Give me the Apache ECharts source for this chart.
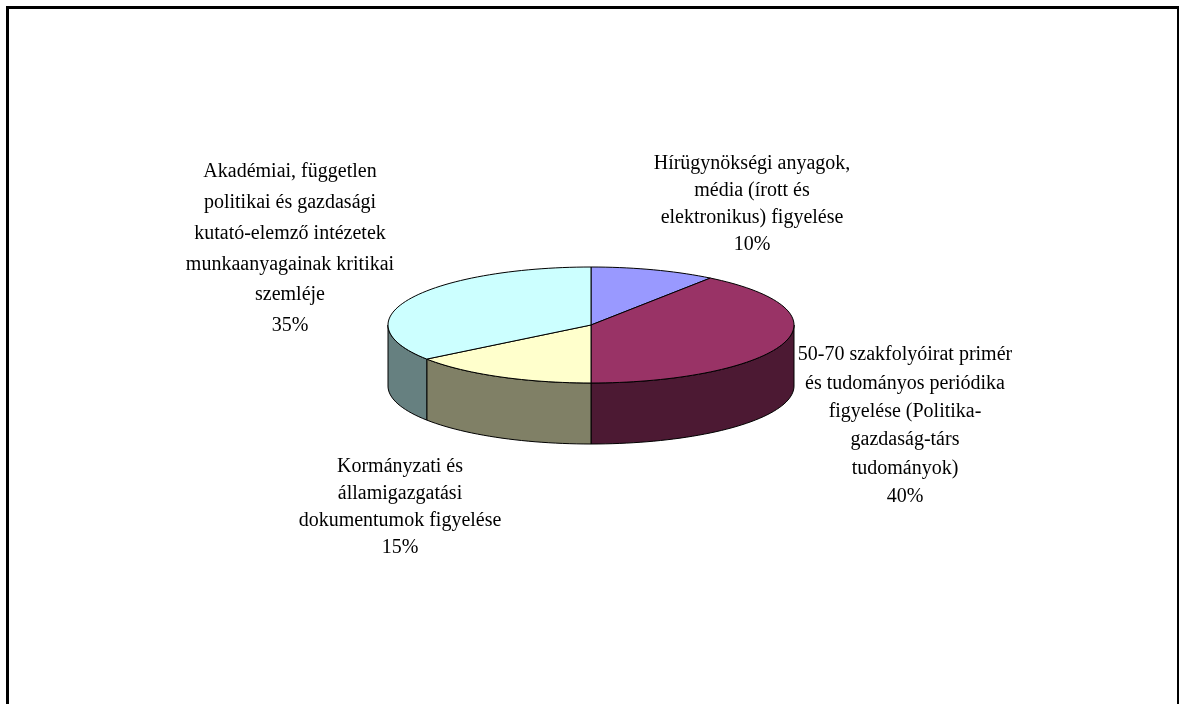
<!DOCTYPE html>
<html>
<head>
<meta charset="utf-8">
<script src="https://cdn.jsdelivr.net/npm/echarts@6/dist/echarts.min.js"></script>
<style>
  html, body { margin: 0; padding: 0; background: #fff; }
  #chart { width: 1179px; height: 704px; }
</style>
</head>
<body>
<div id="chart"></div>
<script>
let categories = [
  "Hírügynökségi anyagok,\nmédia (írott és\nelektronikus) figyelése",
  "50-70 szakfolyóirat primér\nés tudományos periódika\nfigyelése (Politika-\ngazdaság-társ\ntudományok)",
  "Kormányzati és\nállamigazgatási\ndokumentumok figyelése",
  "Akadémiai, független\npolitikai és gazdasági\nkutató-elemző intézetek\nmunkaanyagainak kritikai\nszemléje",
];
let values = [10, 40, 15, 35];
let topColors = ["#9999FF", "#993366", "#FFFFCC", "#CCFFFF"];
let sideColors = ["#4C4C80", "#4C1933", "#808066", "#668080"];

// label block centres, as offsets from the pie centre, and their line heights
let labelOffsets = [[161, -121], [314, 101], [-191, 182], [-301, -76]];
let labelLineHeights = [27, 28.4, 27, 30.8];

let cx = 591, cy = 325, rx = 203, ry = 58, depth = 61;
let total = values.reduce((a, b) => a + b, 0);
let starts = [];
let acc = 0;
values.forEach((v) => {
  starts.push(acc / total * 360);
  acc += v;
});

function rim(deg, dy) {
  let r = deg * Math.PI / 180;
  return [cx + rx * Math.sin(r), cy - ry * Math.cos(r) + dy];
}

function arc(a0, a1, dy) {
  let pts = [];
  let n = Math.max(2, Math.ceil((a1 - a0) / 2));
  for (let i = 0; i <= n; i++) {
    pts.push(rim(a0 + (a1 - a0) * i / n, dy));
  }
  return pts;
}

function renderItem(params, api) {
  let i = params.dataIndex;
  let v = api.value(0);
  let a0 = starts[i];
  let a1 = a0 + v / total * 360;
  let children = [];
  let s0 = Math.max(a0, 90);
  let s1 = Math.min(a1, 270);
  if (s1 > s0) {
    let top = arc(s0, s1, 0);
    let bottom = arc(s0, s1, depth).reverse();
    children.push({
      type: "polygon",
      shape: { points: top.concat(bottom) },
      style: { fill: sideColors[i], stroke: "#000", lineWidth: 1 },
    });
  }
  children.push({
    type: "polygon",
    shape: { points: [[cx, cy]].concat(arc(a0, a1, 0)) },
    style: { fill: topColors[i], stroke: "#000", lineWidth: 1 },
  });
  children.push({
    type: "text",
    x: cx + labelOffsets[i][0],
    y: cy + labelOffsets[i][1],
    style: {
      text: categories[i] + "\n" + v + "%",
      fontFamily: "Liberation Serif",
      fontSize: 20,
      lineHeight: labelLineHeights[i],
      fill: "#000",
      align: "center",
      verticalAlign: "middle",
    },
  });
  return { type: "group", children: children };
}

let myChart = echarts.init(document.getElementById("chart"));
let option = {
  animation: false,
  backgroundColor: "#fff",
  graphic: [
    {
      type: "rect",
      shape: { x: 7.5, y: 7.5, width: 1171, height: 720 },
      style: { fill: null, stroke: "#000", lineWidth: 3 },
    },
  ],
  series: [
    {
      type: "custom",
      coordinateSystem: "none",
      renderItem: renderItem,
      data: values.map((v) => [v]),
    },
  ],
};
myChart.setOption(option);
</script>
</body>
</html>
